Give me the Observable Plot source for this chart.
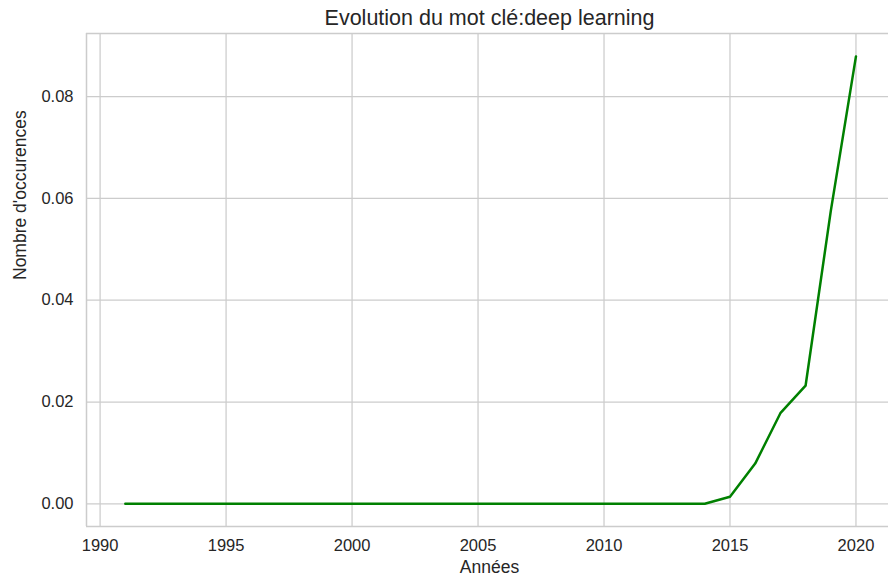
<!DOCTYPE html>
<html>
<head>
<meta charset="utf-8">
<script src="https://cdn.jsdelivr.net/npm/d3@7"></script>
<script src="https://cdn.jsdelivr.net/npm/@observablehq/plot@0.6"></script>
<style>
  html, body { margin: 0; padding: 0; background: #fff; overflow: hidden; }
  #chart { width: 888px; height: 581px; overflow: hidden; }
  #chart svg { display: block; max-width: none !important; width: 892px !important; height: 581px !important; }
</style>
</head>
<body>
<div id="chart"></div>
<script>
const years = d3.range(1991, 2021);
const values = [
  0, 0, 0, 0, 0, 0, 0, 0, 0, 0,      // 1991-2000
  0, 0, 0, 0, 0, 0, 0, 0, 0, 0,      // 2001-2010
  0, 0, 0, 0,                        // 2011-2014
  0.0014, 0.0079, 0.0178, 0.0232, 0.0575, 0.0879  // 2015-2020
];
const xTicks = [1990, 1995, 2000, 2005, 2010, 2015, 2020];
const yTicks = [0, 0.02, 0.04, 0.06, 0.08];
const title = "Evolution du mot clé:deep learning";
const xLabel = "Années";
const yLabel = "Nombre d'occurences";

const data = years.map((y, i) => ({year: y, value: values[i]}));

const xDomain = [1989.46, 2021.45];
const yDomain = [-0.00446, 0.0924];

const font = "'Liberation Sans', Arial, sans-serif";
const textColor = "#262626";
const gridColor = "#cccccc";

const chart = Plot.plot({
  width: 892,
  height: 581,
  marginTop: 33,
  marginBottom: 55,
  marginLeft: 86,
  marginRight: 0,
  style: {fontFamily: font, fontSize: "16px", color: textColor, background: "#fff"},
  x: {domain: xDomain, ticks: xTicks, tickFormat: d3.format("d")},
  y: {domain: yDomain, ticks: yTicks, tickFormat: d3.format(".2f")},
  marks: [
    Plot.gridX(xTicks, {stroke: gridColor, strokeOpacity: 1, strokeWidth: 1.25}),
    Plot.gridY(yTicks, {stroke: gridColor, strokeOpacity: 1, strokeWidth: 1.25}),
    Plot.ruleX([xDomain[0]], {stroke: gridColor, strokeWidth: 1.5}),
    Plot.ruleY(yDomain, {stroke: gridColor, strokeWidth: 1.5}),
    Plot.axisX(xTicks, {tickSize: 0, tickPadding: 13, label: null, tickFormat: d3.format("d"), fill: textColor, fontSize: 16.5}),
    Plot.axisY(yTicks, {tickSize: 0, tickPadding: 13, label: null, tickFormat: d3.format(".2f"), fill: textColor, fontSize: 16.5}),
    Plot.line(data, {x: "year", y: "value", stroke: "#008000", strokeWidth: 2.5}),
    Plot.text([title], {frameAnchor: "top", dy: -15, fontSize: 21.5, fill: textColor, lineAnchor: "middle"}),
    Plot.text([xLabel], {frameAnchor: "bottom", dy: 41, fontSize: 17.5, fill: textColor, lineAnchor: "middle"}),
    Plot.text([yLabel], {frameAnchor: "left", dx: -66, rotate: -90, fontSize: 17.5, fill: textColor, lineAnchor: "middle"})
  ]
});
document.getElementById("chart").appendChild(chart);
</script>
</body>
</html>
